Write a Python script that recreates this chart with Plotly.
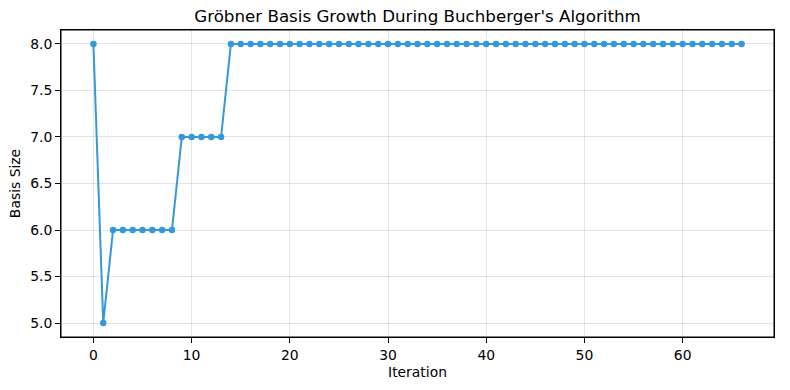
import plotly.graph_objects as go

iterations = list(range(67))
basis_size = [8, 5] + [6] * 7 + [7] * 5 + [8] * 53

title = "Gröbner Basis Growth During Buchberger's Algorithm"
x_label = "Iteration"
y_label = "Basis Size"
x_ticks = [0, 10, 20, 30, 40, 50, 60]
y_ticks = [5.0, 5.5, 6.0, 6.5, 7.0, 7.5, 8.0]

fig = go.Figure()
fig.add_trace(go.Scatter(
    x=iterations, y=basis_size, mode="lines+markers",
    line=dict(color="#3498db", width=2),
    marker=dict(color="#3498db", size=6.5),
    showlegend=False, cliponaxis=False,
))

axis_common = dict(
    showline=True, linecolor="black", linewidth=1, mirror=True,
    ticks="outside", ticklen=5, tickwidth=1, tickcolor="black",
    showgrid=True, gridcolor="rgba(0,0,0,0.1)", gridwidth=1,
    zeroline=False, tickfont=dict(size=13.9, color="black"),
    automargin=False,
)

fig.update_layout(
    width=790, height=390,
    margin=dict(l=61, r=16, t=30, b=53, autoexpand=False),
    paper_bgcolor="white", plot_bgcolor="white",
    font=dict(family="DejaVu Sans", color="black"),
    title=dict(text=title, xref="paper", x=0.5, xanchor="center",
               yref="container", y=1 - 16 / 390, yanchor="middle",
               font=dict(size=16.7, color="black")),
    xaxis=dict(range=[-3.3, 69.3], tickvals=x_ticks, ticktext=[str(v) for v in x_ticks],
               title=dict(text=x_label, font=dict(size=13.9), standoff=5), **axis_common),
    yaxis=dict(range=[4.85, 8.15], tickvals=y_ticks, ticktext=[f"{v:.1f}" for v in y_ticks],
               title=dict(text=y_label, font=dict(size=13.9), standoff=6), **axis_common),
)
fig.add_shape(type="rect", xref="paper", yref="paper", x0=0, y0=0, x1=1, y1=1,
              line=dict(color="black", width=1), layer="above")

fig.write_html("out.html", config={"displayModeBar": False},
               post_script="document.body.style.margin='0';document.body.style.overflow='hidden';")
